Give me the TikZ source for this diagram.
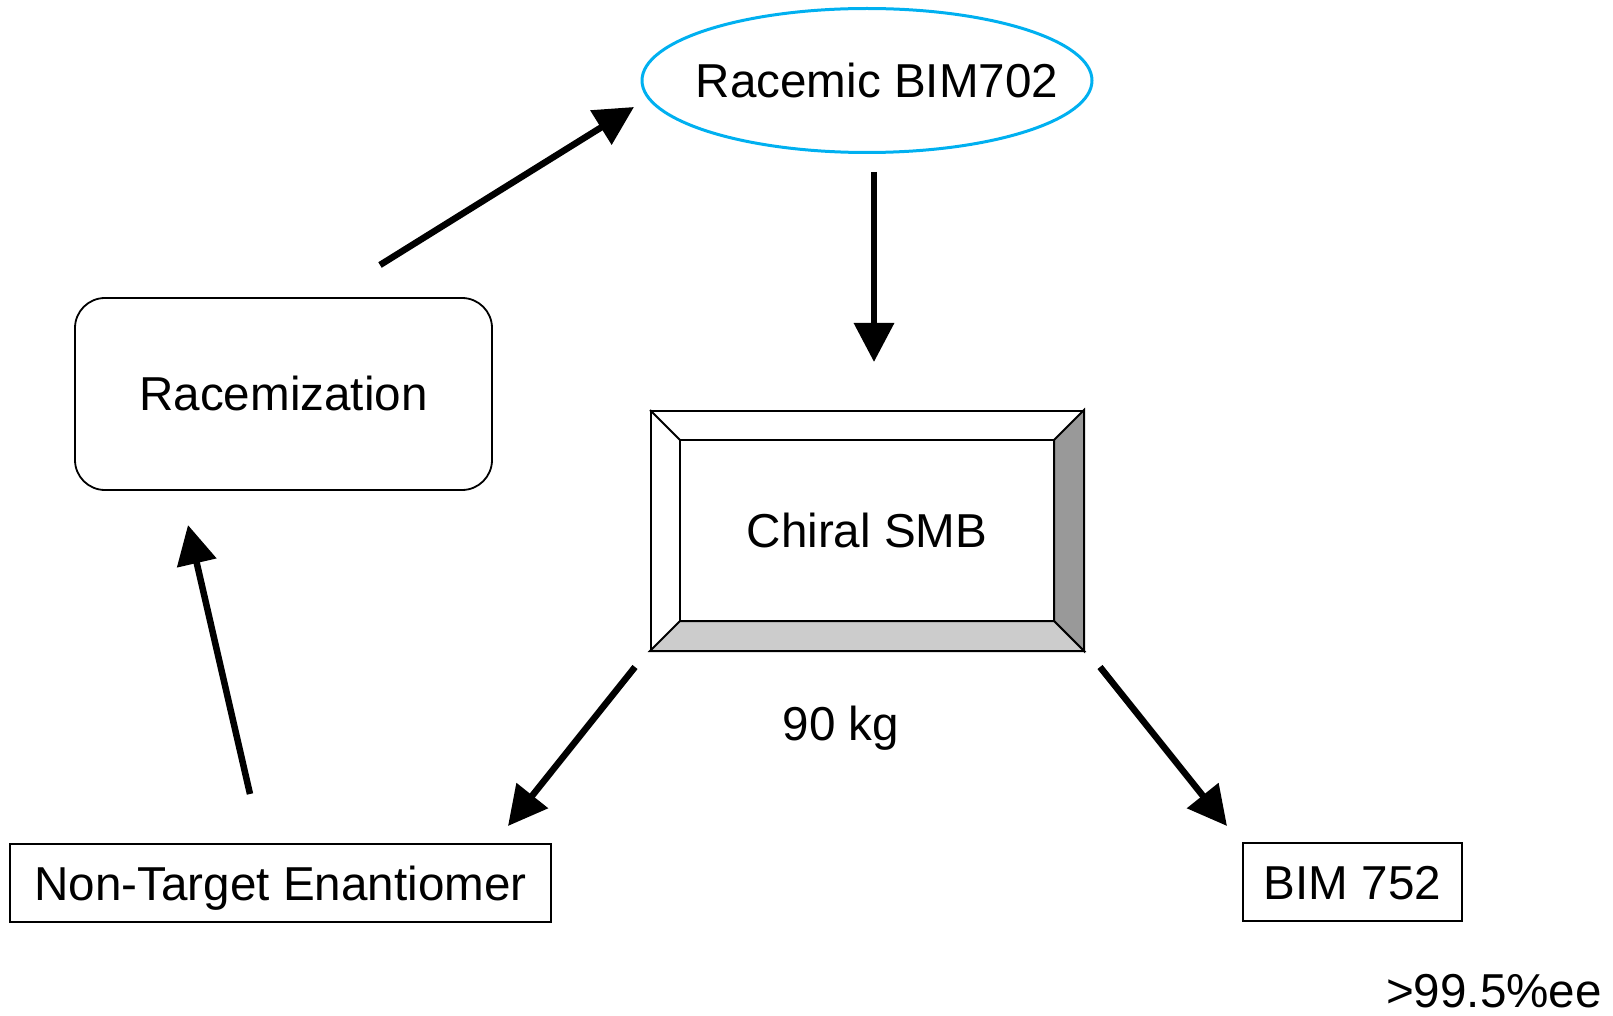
\documentclass[tikz,border=0pt]{standalone}
\usepackage{fontspec}
\setmainfont{Liberation Sans}
\usetikzlibrary{shapes.geometric}
\usetikzlibrary{arrows.meta}
\usetikzlibrary{calc}

\definecolor{racemblue}{HTML}{00B0F0}
\definecolor{beveldark}{HTML}{999999}
\definecolor{bevellight}{HTML}{CCCCCC}

\begin{document}
\begin{tikzpicture}[x=0.5pt, y=-0.5pt,
    every node/.style={font=\fontsize{23.8}{28}\selectfont, text height=17pt, text depth=0pt, inner sep=0pt},
    box/.style={draw, line width=0.8pt, minimum width=#1, minimum height=39pt},
    flow/.style={line width=3.25pt, -{Triangle[length=19.5pt, width=19.5pt]}}]
        \useasboundingbox (0,0) rectangle (1613,1016);

        \node[ellipse, draw=racemblue, line width=1.5pt, minimum width=225pt, minimum height=72pt] (racemic) at (867,80.5) {\makebox[0pt]{\hspace*{10pt}Racemic BIM702}};

        \node[draw, rounded corners=15pt, line width=0.9pt, minimum width=208.5pt, minimum height=96pt] (racemization) at (283.5,394) {Racemization};

        \node[draw, line width=1pt, minimum width=216pt, minimum height=119.5pt] (smb) at (867,530.5) {Chiral SMB};
        \node (mass) at (841,723) {90 kg};

        \node[box=270.5pt] (nontarget) at (280.5,883) {Non-Target Enantiomer};
        \node[box=109.5pt] (bim) at (1352.5,882) {BIM 752};
        \node (ee) at (1494,990) {>99.5\%ee};

        % bevel of the column box
        \coordinate (smb-nw) at ($(smb.north west)+(30,30)$);
        \coordinate (smb-ne) at ($(smb.north east)+(-30,30)$);
        \coordinate (smb-se) at ($(smb.south east)+(-30,-30)$);
        \coordinate (smb-sw) at ($(smb.south west)+(30,-30)$);
        \filldraw[fill=beveldark, line width=1pt] (smb.north east) -- (smb.south east) -- (smb-se) -- (smb-ne) -- cycle;
        \filldraw[fill=bevellight, line width=1pt] (smb.south west) -- (smb.south east) -- (smb-se) -- (smb-sw) -- cycle;
        \draw[line width=1pt] (smb.north west) -- (smb-nw);
        \draw[line width=1pt] (smb-nw) rectangle (smb-se);

        % arrow ends
        \coordinate (racemization-out) at (380,265);
        \coordinate (racemic-in) at (634,107);
        \coordinate (racemic-out) at (874,172);
        \coordinate (smb-in) at (874,362);
        \coordinate (smb-left) at (635,667);
        \coordinate (nontarget-in) at (508,826);
        \coordinate (smb-right) at (1100,667);
        \coordinate (bim-in) at (1227,826);
        \coordinate (nontarget-out) at (250,794);
        \coordinate (racemization-in) at (188,525);

        \draw[flow] (racemization-out) -- (racemic-in);
        \draw[flow] (racemic-out) -- (smb-in);
        \draw[flow] (smb-left) -- (nontarget-in);
        \draw[flow] (smb-right) -- (bim-in);
        \draw[flow] (nontarget-out) -- (racemization-in);
      \end{tikzpicture}
\end{document}
